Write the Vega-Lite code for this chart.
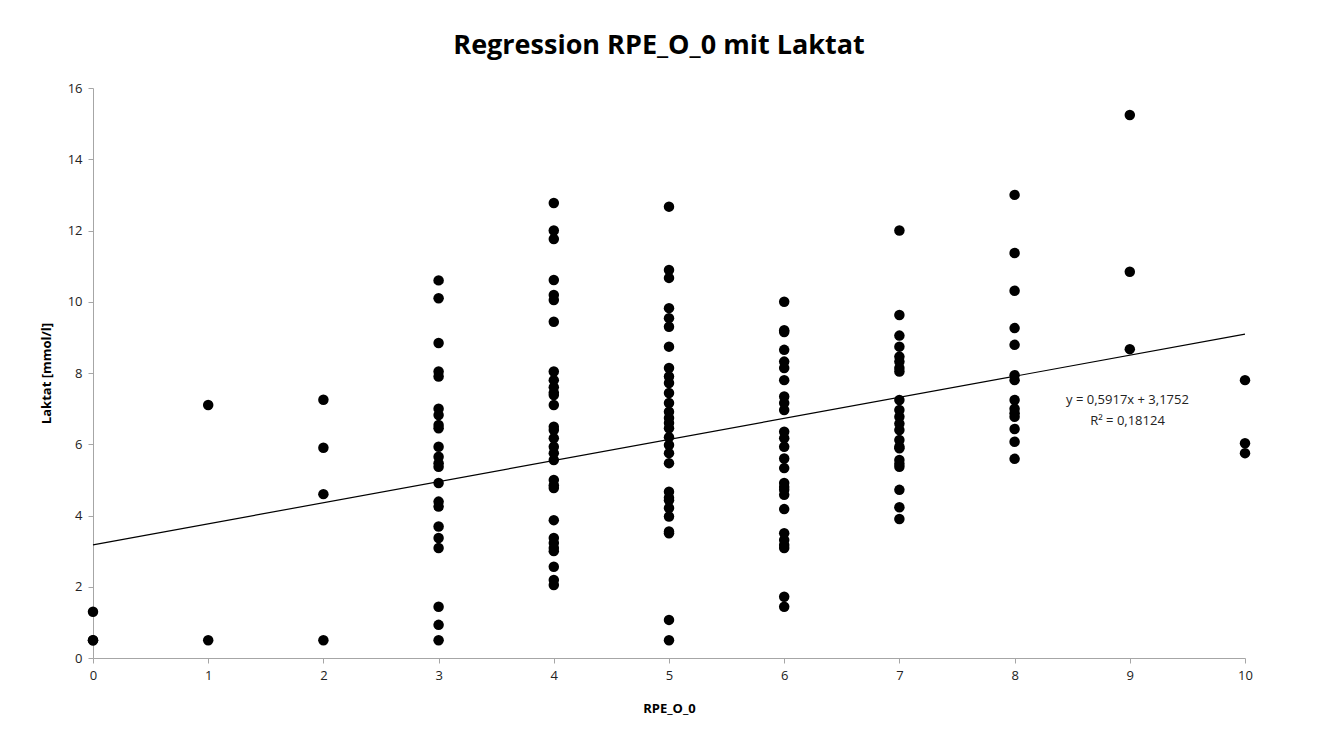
{
  "$schema": "https://vega.github.io/schema/vega-lite/v6.json",
  "autosize": {"type": "none"},
  "width": 1152,
  "height": 570,
  "padding": {"left": 93, "top": 88, "right": 88, "bottom": 75},
  "background": "white",
  "title": {"text": "Regression RPE_O_0 mit Laktat", "fontSize": 27, "font": "Open Sans", "fontWeight": "bold", "color": "#000000", "offset": 22, "anchor": "middle", "dx": -10},
  "config": {
    "view": {"stroke": null},
    "axis": {"grid": false, "domainColor": "#a6a6a6", "tickColor": "#a6a6a6", "tickSize": 5, "labelFont": "Open Sans", "labelFontSize": 13, "labelColor": "#222222", "titleFont": "Open Sans", "titleFontSize": 13, "titleFontWeight": "bold", "titleColor": "#000000", "labelPadding": 6, "labelFlush": false, "labelOverlap": false}
  },
  "datasets": {
    "points": [
      {"rpe": 0, "laktat": 1.3}, {"rpe": 0, "laktat": 0.5}, {"rpe": 0, "laktat": 0.5},
      {"rpe": 1, "laktat": 7.1}, {"rpe": 1, "laktat": 0.5},
      {"rpe": 2, "laktat": 7.25}, {"rpe": 2, "laktat": 5.9}, {"rpe": 2, "laktat": 4.6}, {"rpe": 2, "laktat": 0.5},
      {"rpe": 3, "laktat": 10.6}, {"rpe": 3, "laktat": 10.1}, {"rpe": 3, "laktat": 8.84}, {"rpe": 3, "laktat": 8.04}, {"rpe": 3, "laktat": 7.9}, {"rpe": 3, "laktat": 7.0}, {"rpe": 3, "laktat": 6.82}, {"rpe": 3, "laktat": 6.54}, {"rpe": 3, "laktat": 6.45}, {"rpe": 3, "laktat": 5.93}, {"rpe": 3, "laktat": 5.65}, {"rpe": 3, "laktat": 5.47}, {"rpe": 3, "laktat": 5.37}, {"rpe": 3, "laktat": 4.91}, {"rpe": 3, "laktat": 4.39}, {"rpe": 3, "laktat": 4.25}, {"rpe": 3, "laktat": 3.69}, {"rpe": 3, "laktat": 3.37}, {"rpe": 3, "laktat": 3.09}, {"rpe": 3, "laktat": 1.44}, {"rpe": 3, "laktat": 0.93}, {"rpe": 3, "laktat": 0.5},
      {"rpe": 4, "laktat": 12.77}, {"rpe": 4, "laktat": 12.0}, {"rpe": 4, "laktat": 11.76}, {"rpe": 4, "laktat": 10.61}, {"rpe": 4, "laktat": 10.19}, {"rpe": 4, "laktat": 10.05}, {"rpe": 4, "laktat": 9.44}, {"rpe": 4, "laktat": 8.04}, {"rpe": 4, "laktat": 7.8}, {"rpe": 4, "laktat": 7.6}, {"rpe": 4, "laktat": 7.45}, {"rpe": 4, "laktat": 7.38}, {"rpe": 4, "laktat": 7.1}, {"rpe": 4, "laktat": 6.49}, {"rpe": 4, "laktat": 6.4}, {"rpe": 4, "laktat": 6.17}, {"rpe": 4, "laktat": 5.93}, {"rpe": 4, "laktat": 5.75}, {"rpe": 4, "laktat": 5.56}, {"rpe": 4, "laktat": 5.0}, {"rpe": 4, "laktat": 4.85}, {"rpe": 4, "laktat": 4.77}, {"rpe": 4, "laktat": 3.87}, {"rpe": 4, "laktat": 3.37}, {"rpe": 4, "laktat": 3.23}, {"rpe": 4, "laktat": 3.09}, {"rpe": 4, "laktat": 3.0}, {"rpe": 4, "laktat": 2.56}, {"rpe": 4, "laktat": 2.19}, {"rpe": 4, "laktat": 2.05},
      {"rpe": 5, "laktat": 12.67}, {"rpe": 5, "laktat": 10.89}, {"rpe": 5, "laktat": 10.67}, {"rpe": 5, "laktat": 9.82}, {"rpe": 5, "laktat": 9.54}, {"rpe": 5, "laktat": 9.3}, {"rpe": 5, "laktat": 8.74}, {"rpe": 5, "laktat": 8.14}, {"rpe": 5, "laktat": 7.9}, {"rpe": 5, "laktat": 7.72}, {"rpe": 5, "laktat": 7.44}, {"rpe": 5, "laktat": 7.16}, {"rpe": 5, "laktat": 6.91}, {"rpe": 5, "laktat": 6.74}, {"rpe": 5, "laktat": 6.6}, {"rpe": 5, "laktat": 6.45}, {"rpe": 5, "laktat": 6.2}, {"rpe": 5, "laktat": 5.98}, {"rpe": 5, "laktat": 5.75}, {"rpe": 5, "laktat": 5.47}, {"rpe": 5, "laktat": 4.67}, {"rpe": 5, "laktat": 4.5}, {"rpe": 5, "laktat": 4.43}, {"rpe": 5, "laktat": 4.21}, {"rpe": 5, "laktat": 3.97}, {"rpe": 5, "laktat": 3.55}, {"rpe": 5, "laktat": 3.5}, {"rpe": 5, "laktat": 1.07}, {"rpe": 5, "laktat": 0.5},
      {"rpe": 6, "laktat": 10.0}, {"rpe": 6, "laktat": 9.2}, {"rpe": 6, "laktat": 9.15}, {"rpe": 6, "laktat": 8.65}, {"rpe": 6, "laktat": 8.32}, {"rpe": 6, "laktat": 8.14}, {"rpe": 6, "laktat": 7.8}, {"rpe": 6, "laktat": 7.34}, {"rpe": 6, "laktat": 7.16}, {"rpe": 6, "laktat": 6.96}, {"rpe": 6, "laktat": 6.35}, {"rpe": 6, "laktat": 6.17}, {"rpe": 6, "laktat": 5.93}, {"rpe": 6, "laktat": 5.6}, {"rpe": 6, "laktat": 5.33}, {"rpe": 6, "laktat": 4.91}, {"rpe": 6, "laktat": 4.8}, {"rpe": 6, "laktat": 4.72}, {"rpe": 6, "laktat": 4.58}, {"rpe": 6, "laktat": 4.18}, {"rpe": 6, "laktat": 3.5}, {"rpe": 6, "laktat": 3.31}, {"rpe": 6, "laktat": 3.17}, {"rpe": 6, "laktat": 3.09}, {"rpe": 6, "laktat": 1.72}, {"rpe": 6, "laktat": 1.44},
      {"rpe": 7, "laktat": 12.0}, {"rpe": 7, "laktat": 9.63}, {"rpe": 7, "laktat": 9.05}, {"rpe": 7, "laktat": 8.74}, {"rpe": 7, "laktat": 8.46}, {"rpe": 7, "laktat": 8.32}, {"rpe": 7, "laktat": 8.14}, {"rpe": 7, "laktat": 8.04}, {"rpe": 7, "laktat": 7.24}, {"rpe": 7, "laktat": 6.96}, {"rpe": 7, "laktat": 6.77}, {"rpe": 7, "laktat": 6.58}, {"rpe": 7, "laktat": 6.4}, {"rpe": 7, "laktat": 6.12}, {"rpe": 7, "laktat": 5.93}, {"rpe": 7, "laktat": 5.89}, {"rpe": 7, "laktat": 5.56}, {"rpe": 7, "laktat": 5.45}, {"rpe": 7, "laktat": 5.37}, {"rpe": 7, "laktat": 4.72}, {"rpe": 7, "laktat": 4.23}, {"rpe": 7, "laktat": 3.9},
      {"rpe": 8, "laktat": 13.0}, {"rpe": 8, "laktat": 11.37}, {"rpe": 8, "laktat": 10.31}, {"rpe": 8, "laktat": 9.26}, {"rpe": 8, "laktat": 8.79}, {"rpe": 8, "laktat": 7.94}, {"rpe": 8, "laktat": 7.8}, {"rpe": 8, "laktat": 7.24}, {"rpe": 8, "laktat": 7.0}, {"rpe": 8, "laktat": 6.87}, {"rpe": 8, "laktat": 6.77}, {"rpe": 8, "laktat": 6.43}, {"rpe": 8, "laktat": 6.07}, {"rpe": 8, "laktat": 5.59},
      {"rpe": 9, "laktat": 15.24}, {"rpe": 9, "laktat": 10.84}, {"rpe": 9, "laktat": 8.67},
      {"rpe": 10, "laktat": 7.8}, {"rpe": 10, "laktat": 6.03}, {"rpe": 10, "laktat": 5.75}
    ],
    "trend": [
      {"rpe": 0, "laktat": 3.1752},
      {"rpe": 10, "laktat": 9.0922}
    ],
    "notes": [
      {"rpe": 8.98, "laktat": 7.24, "label": "y = 0,5917x + 3,1752"},
      {"rpe": 8.98, "laktat": 6.65, "label": "R² = 0,18124"}
    ]
  },
  "layer": [
    {
      "data": {"name": "trend"},
      "mark": {"type": "line", "color": "#000000", "strokeWidth": 1.2},
      "encoding": {
        "x": {"field": "rpe", "type": "quantitative", "scale": {"domain": [0, 10], "nice": false}, "axis": {"values": [0,1,2,3,4,5,6,7,8,9,10], "format": "d", "title": "RPE_O_0", "titlePadding": 20}},
        "y": {"field": "laktat", "type": "quantitative", "scale": {"domain": [0, 16], "nice": false}, "axis": {"values": [0,2,4,6,8,10,12,14,16], "format": "d", "title": "Laktat [mmol/l]", "titlePadding": 14}}
      }
    },
    {
      "data": {"name": "points"},
      "mark": {"type": "circle", "color": "#000000", "opacity": 1, "size": 110},
      "encoding": {
        "x": {"field": "rpe", "type": "quantitative"},
        "y": {"field": "laktat", "type": "quantitative"}
      }
    },
    {
      "data": {"name": "notes"},
      "mark": {"type": "text", "font": "Open Sans", "fontSize": 13, "color": "#222222", "align": "center", "baseline": "middle"},
      "encoding": {
        "x": {"field": "rpe", "type": "quantitative"},
        "y": {"field": "laktat", "type": "quantitative"},
        "text": {"field": "label"}
      }
    }
  ]
}
